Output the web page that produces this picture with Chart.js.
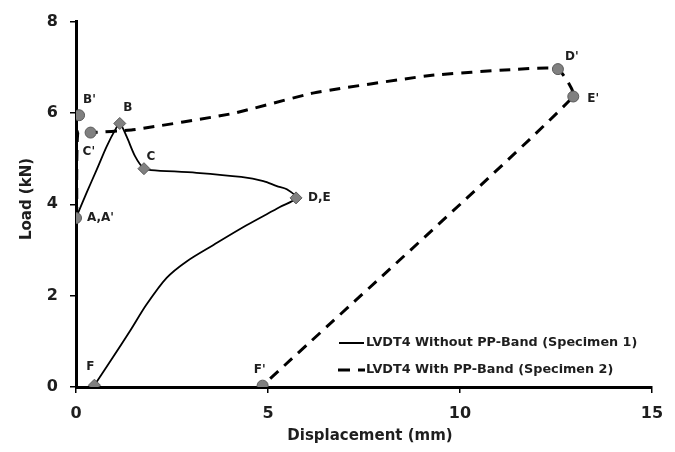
<!DOCTYPE html>
<html>
<head>
<meta charset="utf-8">
<script src="https://cdn.jsdelivr.net/npm/chart.js@4/dist/chart.umd.min.js"></script>
<style>
  html, body { margin: 0; padding: 0; background: #fff; }
  #wrap { width: 675px; height: 452px; position: relative; }
</style>
</head>
<body>
<div id="wrap"><canvas id="chart"></canvas></div>
<script>
// ---- data ----
const xTickValues = [0, 5, 10, 15];
const yTickValues = [0, 2, 4, 6, 8];
const xTitle = "Displacement (mm)";
const yTitle = "Load (kN)";

// Specimen 1 (solid): full curve path A -> B -> C -> D,E -> F
const s1CurveX = [0, 0.28, 0.54, 0.8, 1.02, 1.14, 1.32, 1.54, 1.77, 1.95, 3.14, 4.3, 4.88, 5.23, 5.49, 5.73,
                  5.31, 4.44, 3.58, 2.88, 2.36, 1.84, 1.41, 0.97, 0.48];
const s1CurveY = [3.7, 4.26, 4.76, 5.27, 5.63, 5.77, 5.48, 5.05, 4.78, 4.75, 4.69, 4.6, 4.51, 4.4, 4.33, 4.14,
                  3.94, 3.54, 3.11, 2.75, 2.39, 1.81, 1.23, 0.66, 0.04];
// Specimen 1 marked points
const s1PointNames = ["B", "C", "D,E", "F"];
const s1PointX = [1.14, 1.77, 5.73, 0.48];
const s1PointY = [5.77, 4.78, 4.14, 0.04];

// Specimen 2 (dashed): full curve path
const s2CurveX = [0.02, 0.05, 0.38, 1.48, 4.09, 6.2, 9.22, 11.38, 12.55, 12.95, 4.86];
const s2CurveY = [3.7, 5.58, 5.57, 5.63, 5.99, 6.44, 6.82, 6.95, 6.96, 6.36, 0.03];
// Specimen 2 marked points
const s2PointNames = ["A,A'", "B'", "C'", "D'", "E'", "F'"];
const s2PointX = [0, 0.08, 0.38, 12.55, 12.95, 4.86];
const s2PointY = [3.7, 5.95, 5.57, 6.96, 6.36, 0.03];

const seriesLabels = ["LVDT4 Without PP-Band (Specimen 1)", "LVDT4 With PP-Band (Specimen 2)"];

// ---- helpers ----
const zip = (xs, ys) => xs.map((x, i) => ({ x, y: ys[i] }));

const FONT = "'DejaVu Sans', sans-serif";
const TEXT = "#1e1e1e";
const MARK_FILL = "#808080";
const MARK_EDGE = "#5a5a5a";

// label offsets in px: [dx, dy, align]
const labelOffsets = {
  "A,A'": [11, 0, "left"],
  "B'": [4, -15, "left"],
  "C'": [-8, 19, "left"],
  "B": [8, -16, "center"],
  "C": [7, -12, "center"],
  "D,E": [12, 0, "left"],
  "F": [-4, -18, "center"],
  "F'": [-3, -16, "center"],
  "D'": [7, -12, "left"],
  "E'": [14, 2, "left"],
};

const pointLabels = {
  id: "pointLabels",
  afterDatasetsDraw(chart) {
    const { ctx, scales: { x, y } } = chart;
    ctx.save();
    ctx.font = `bold 12px ${FONT}`;
    ctx.fillStyle = TEXT;
    ctx.textBaseline = "middle";
    const draw = (names, xs, ys) => names.forEach((n, i) => {
      const [dx, dy, align] = labelOffsets[n] || [8, -12, "left"];
      ctx.textAlign = align;
      ctx.fillText(n, x.getPixelForValue(xs[i]) + dx, y.getPixelForValue(ys[i]) + dy);
    });
    draw(s1PointNames, s1PointX, s1PointY);
    draw(s2PointNames, s2PointX, s2PointY);
    ctx.restore();
  }
};

// in-plot legend + axis titles
const decorations = {
  id: "decorations",
  afterDraw(chart) {
    const { ctx } = chart;
    ctx.save();
    ctx.fillStyle = TEXT;
    ctx.strokeStyle = "#000";

    // axis titles
    ctx.font = `bold 15px ${FONT}`;
    ctx.textAlign = "center";
    ctx.textBaseline = "middle";
    ctx.fillText(xTitle, 370, 436);
    ctx.save();
    ctx.translate(27, 199);
    ctx.rotate(-Math.PI / 2);
    ctx.fillText(yTitle, 0, 0);
    ctx.restore();

    // legend
    const lx0 = 339, lx1 = 364, tx = 366;
    const rows = [343, 370];
    ctx.lineWidth = 2;
    ctx.setLineDash([]);
    ctx.beginPath(); ctx.moveTo(lx0, rows[0]); ctx.lineTo(lx1, rows[0]); ctx.stroke();
    ctx.lineWidth = 3;
    ctx.setLineDash([12, 8]);
    ctx.beginPath(); ctx.moveTo(lx0 - 1, rows[1]); ctx.lineTo(lx1 + 1, rows[1]); ctx.stroke();
    ctx.setLineDash([]);
    ctx.font = `bold 12.8px ${FONT}`;
    ctx.textAlign = "left";
    seriesLabels.forEach((t, i) => ctx.fillText(t, tx, rows[i]));
    ctx.restore();
  }
};

const tickFont = { family: FONT, size: 16, weight: "bold" };

new Chart(document.getElementById("chart"), {
  type: "scatter",
  data: {
    datasets: [
      {
        label: seriesLabels[1] + " markers",
        data: zip(s2PointX, s2PointY),
        showLine: false,
        pointStyle: "circle",
        pointRadius: 5.5,
        backgroundColor: MARK_FILL,
        borderColor: MARK_EDGE,
        borderWidth: 1,
        order: 0,
      },
      {
        label: seriesLabels[0] + " markers",
        data: zip(s1PointX, s1PointY),
        showLine: false,
        pointStyle: "rectRot",
        pointRadius: 6,
        backgroundColor: MARK_FILL,
        borderColor: MARK_EDGE,
        borderWidth: 1,
        order: 1,
      },
      {
        label: seriesLabels[1],
        data: zip(s2CurveX, s2CurveY),
        showLine: true,
        borderColor: "#000",
        borderWidth: 3,
        borderDash: [11, 8],
        pointRadius: 0,
        tension: 0.15,
        order: 2,
      },
      {
        label: seriesLabels[0],
        data: zip(s1CurveX, s1CurveY),
        showLine: true,
        borderColor: "#000",
        borderWidth: 1.8,
        pointRadius: 0,
        tension: 0.3,
        order: 3,
      },
    ]
  },
  options: {
    responsive: true,
    maintainAspectRatio: false,
    animation: false,
    layout: { padding: { top: 17, right: 23, left: 0, bottom: 0 } },
    plugins: { legend: { display: false }, tooltip: { enabled: false } },
    scales: {
      x: {
        type: "linear",
        min: 0, max: 15,
        afterBuildTicks: (s) => { s.ticks = xTickValues.map(v => ({ value: v })); },
        afterFit: (s) => { s.height = 65; },
        border: { display: true, color: "#000", width: 3 },
        grid: { drawOnChartArea: false, drawTicks: true, tickLength: 6, color: "#000", lineWidth: 1.5 },
        ticks: { font: tickFont, color: TEXT, padding: 11, maxRotation: 0 },
        title: { display: false },
      },
      y: {
        type: "linear",
        min: 0, max: 8,
        afterBuildTicks: (s) => { s.ticks = yTickValues.map(v => ({ value: v })); },
        afterFit: (s) => { s.width = 76; },
        border: { display: true, color: "#000", width: 3 },
        grid: { drawOnChartArea: false, drawTicks: true, tickLength: 6, color: "#000", lineWidth: 1.5 },
        ticks: { font: tickFont, color: TEXT, padding: 12 },
        title: { display: false },
      }
    }
  },
  plugins: [pointLabels, decorations]
});
</script>
</body>
</html>
